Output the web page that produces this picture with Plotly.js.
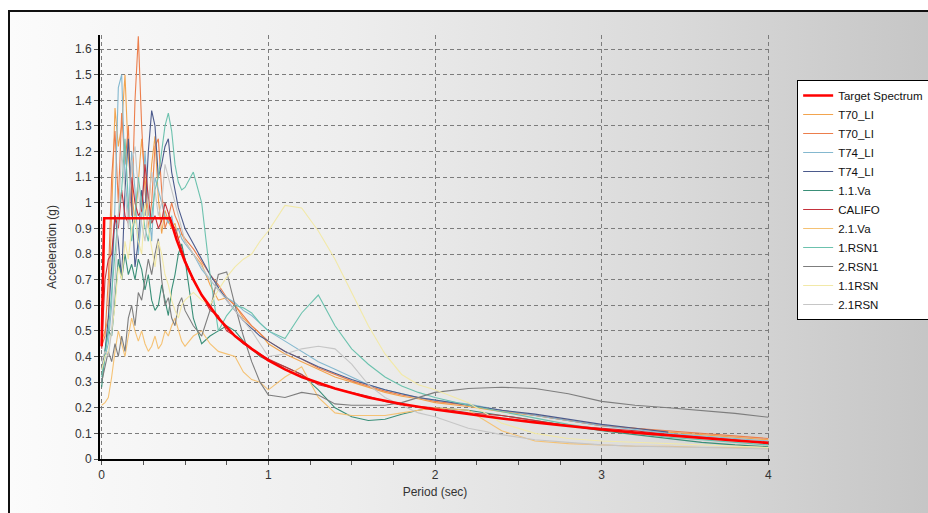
<!DOCTYPE html>
<html><head><meta charset="utf-8">
<script src="https://cdn.plot.ly/plotly-3.0.1.min.js"></script>
<style>
html,body{margin:0;padding:0;background:#fff;width:928px;height:513px;overflow:hidden;}
#frame{position:absolute;left:8px;top:10px;width:940px;height:520px;border-left:2px solid #111;border-top:2px solid #111;background:linear-gradient(to right,#fbfbfb 0%,#eeeeee 35%,#dadada 70%,#c4c4c4 100%);}
#chart{position:absolute;left:0;top:0;width:928px;height:513px;}
</style></head><body>
<div id="frame"></div>
<div id="chart"></div>
<script>
// ---- data ----
const periods = [0,0.02,0.04,0.06,0.08,0.10,0.12,0.14,0.16,0.18,
 0.20,0.22,0.24,0.26,0.28,0.30,0.32,0.34,0.36,0.38,
 0.40,0.42,0.44,0.46,0.48,0.50,0.55,0.60,0.65,0.70,
 0.75,0.80,0.85,0.90,0.95,1.0,1.1,1.2,1.3,1.4,
 1.5,1.6,1.7,1.8,1.9,2.0,2.2,2.4,2.6,2.8,
 3.0,3.2,3.4,3.6,3.8,4.0];

const targetPeriods = [0,0.015,0.41,0.45,0.5,0.55,0.6,0.7,0.8,0.9,1.0,1.1,1.2,1.4,1.6,1.8,2.0,2.2,2.4,2.6,2.8,3.0,3.2,3.4,3.6,3.8,4.0];
const targetSa = [0.44,0.94,0.94,0.855,0.77,0.70,0.64,0.55,0.48,0.43,0.385,0.35,0.32,0.275,0.24,0.215,0.193,0.175,0.158,0.143,0.128,0.115,0.103,0.092,0.082,0.072,0.063];

const t70a = [0.46,0.50,0.55,0.95,1.37,1.22,1.30,1.50,1.18,1.05,
 0.92,1.08,1.25,1.10,0.95,1.15,1.26,1.02,0.88,0.97,
 0.93,0.90,0.92,0.86,0.88,0.85,0.80,0.76,0.68,0.62,
 0.63,0.60,0.55,0.52,0.49,0.45,0.41,0.38,0.35,0.32,
 0.30,0.28,0.26,0.245,0.235,0.22,0.205,0.185,0.17,0.15,
 0.13,0.12,0.105,0.095,0.085,0.075];

const t70b = [0.44,0.48,0.70,1.10,1.28,1.00,1.35,1.15,1.30,0.95,
 1.40,1.65,1.30,1.05,0.90,1.00,1.22,1.25,1.05,0.90,
 0.94,1.00,0.95,0.92,0.88,0.86,0.82,0.77,0.72,0.68,
 0.63,0.60,0.56,0.52,0.49,0.46,0.42,0.39,0.355,0.33,
 0.305,0.285,0.265,0.25,0.24,0.225,0.21,0.19,0.17,0.15,
 0.13,0.12,0.11,0.10,0.09,0.08];

const t74a = [0.30,0.40,0.45,0.60,1.00,1.45,1.50,1.10,0.95,1.20,
 1.05,0.80,0.95,1.20,1.00,0.85,1.10,1.05,1.00,0.95,
 0.92,0.95,0.88,0.90,0.86,0.84,0.80,0.74,0.70,0.66,
 0.63,0.61,0.58,0.56,0.53,0.50,0.46,0.42,0.38,0.35,
 0.32,0.29,0.27,0.255,0.24,0.23,0.215,0.19,0.17,0.15,
 0.13,0.115,0.10,0.09,0.08,0.07];

const t74b = [0.35,0.42,0.55,0.75,0.95,0.85,0.70,1.05,1.25,1.00,
 0.75,0.85,1.05,0.95,1.20,1.36,1.30,1.10,1.15,1.22,
 1.25,1.12,1.05,0.98,0.94,0.90,0.84,0.78,0.72,0.67,
 0.62,0.58,0.54,0.51,0.48,0.46,0.42,0.39,0.36,0.335,
 0.31,0.29,0.27,0.255,0.24,0.23,0.21,0.19,0.175,0.155,
 0.135,0.12,0.105,null,null,null];

const va11 = [0.28,0.42,0.50,0.48,0.62,0.78,0.70,0.80,0.72,0.76,
 0.70,0.78,0.74,0.66,0.72,0.62,0.58,0.60,0.68,0.62,
 0.56,0.66,0.72,0.80,0.84,0.78,0.55,0.45,0.48,0.50,
 0.52,0.50,0.46,0.43,0.40,0.385,0.36,0.33,0.27,0.20,
 0.165,0.15,0.155,0.175,0.19,0.20,0.19,0.17,0.15,0.13,
 0.11,0.095,0.08,0.065,0.055,0.048];

const califo = [0.43,0.70,0.78,0.80,0.95,0.90,1.05,0.95,0.92,1.10,
 1.00,0.95,0.97,1.15,1.02,0.92,0.95,0.90,0.93,1.00,
 0.96,0.92,0.90,0.86,0.82,0.78,0.70,0.64,0.58,0.56,
 0.50,0.48,0.45,0.43,0.41,0.39,0.36,0.33,0.29,0.275,
 0.26,0.245,0.225,0.21,0.205,0.20,0.18,0.17,0.15,0.13,
 0.12,0.11,0.095,0.085,0.075,0.06];

const va21 = [0.21,0.22,0.24,0.32,0.42,0.50,0.45,0.40,0.48,0.55,
 0.50,0.46,0.50,0.45,0.42,0.44,0.48,0.43,0.45,0.50,
 0.48,0.52,0.55,0.50,0.46,0.44,0.48,0.50,0.45,0.42,
 0.41,0.40,0.34,0.31,0.30,0.27,0.32,0.36,0.24,0.18,
 0.17,0.17,0.17,0.18,0.19,0.20,0.19,0.11,0.07,0.06,
 0.055,0.05,0.05,0.045,0.045,0.04];

const rsn1a = [0.32,0.40,0.50,0.65,0.80,0.95,1.05,1.25,1.00,0.85,
 0.95,1.10,1.00,0.90,0.85,0.95,1.05,1.10,1.20,1.30,
 1.35,1.28,1.15,1.08,1.05,1.06,1.12,1.00,0.72,0.50,
 0.56,0.60,0.59,0.57,0.53,0.50,0.47,0.57,0.64,0.52,
 0.43,0.37,0.32,0.285,0.26,0.24,0.21,0.185,0.16,0.135,
 0.115,0.10,0.085,0.075,0.065,0.055];

const rsn1b = [0.30,0.36,0.42,0.38,0.45,0.40,0.48,0.42,0.55,0.60,
 0.52,0.65,0.62,0.70,0.78,0.72,0.80,0.86,0.70,0.60,
 0.63,0.55,0.52,0.60,0.63,0.58,0.52,0.48,0.58,0.72,
 0.73,0.60,0.48,0.38,0.30,0.25,0.24,0.26,0.25,0.215,
 0.21,0.21,0.21,0.22,0.24,0.26,0.275,0.28,0.275,0.255,
 0.225,0.21,0.20,0.19,0.178,0.163];

const rsn11 = [0.35,0.40,0.42,0.50,0.60,0.75,0.70,0.85,0.78,0.90,
 0.95,0.85,0.80,1.00,0.90,0.82,0.75,0.85,0.80,0.72,
 0.68,0.62,0.58,0.55,0.60,0.62,0.65,0.62,0.60,0.66,
 0.71,0.75,0.78,0.80,0.85,0.89,0.99,0.98,0.89,0.78,
 0.65,0.52,0.41,0.33,0.29,0.27,0.22,0.14,0.10,0.08,
 0.07,0.065,0.06,0.055,0.05,0.045];

const rsn21 = [0.38,0.42,0.40,0.50,0.70,0.95,1.20,1.05,0.90,1.15,
 1.22,1.05,0.92,0.85,1.00,1.12,1.05,0.95,1.00,1.15,
 1.10,1.05,1.00,0.95,0.90,0.85,0.80,0.75,0.70,0.66,
 0.62,0.58,0.54,0.50,0.45,0.40,0.41,0.43,0.44,0.43,
 0.37,0.29,0.24,0.21,0.18,0.165,0.12,0.095,0.075,0.065,
 0.055,0.05,0.048,0.045,0.043,0.04];

const recordNames = ['T70_LI','T70_LI','T74_LI','T74_LI','1.1.Va','CALIFO','2.1.Va','1.RSN1','2.RSN1','1.1RSN','2.1RSN'];
const recordValues = [t70a,t70b,t74a,t74b,va11,califo,va21,rsn1a,rsn1b,rsn11,rsn21];
const targetName = 'Target Spectrum';

const xTickVals = [0,1,2,3,4];
const xTickText = ['0','1','2','3','4'];
const yTickVals = [0,0.1,0.2,0.3,0.4,0.5,0.6,0.7,0.8,0.9,1,1.1,1.2,1.3,1.4,1.5,1.6];
const yTickText = ['0','0.1','0.2','0.3','0.4','0.5','0.6','0.7','0.8','0.9','1','1.1','1.2','1.3','1.4','1.5','1.6'];

// ---- styles ----
const recordColors = ['#f2a44e','#ec7e4c','#84b8cf','#4b5a8c','#3a8f78','#c4323c','#f5c274','#6cc2ae','#7d7d7d','#f2e9a8','#c6c6c6'];

const traces = recordValues.map((vals, i) => ({
  type: 'scatter', mode: 'lines', name: recordNames[i],
  x: periods, y: vals, connectgaps: false,
  line: {color: recordColors[i], width: 1.1},
  legendrank: 10 + i
}));
traces.push({
  type: 'scatter', mode: 'lines', name: targetName,
  x: targetPeriods, y: targetSa,
  line: {color: '#ff0000', width: 2.6},
  legendrank: 1
});

const gridStyle = {showgrid: true, gridcolor: '#7c7c7c', gridwidth: 1, griddash: '4px,3px'};

const layout = {
  width: 928, height: 513,
  paper_bgcolor: 'rgba(0,0,0,0)', plot_bgcolor: 'rgba(0,0,0,0)',
  margin: {l: 100, r: 158, t: 35, b: 54, pad: 0, autoexpand: false},
  font: {family: 'Arial, "Liberation Sans", sans-serif', size: 12, color: '#333'},
  showlegend: true,
  legend: {xref: 'container', yref: 'container', x: 0.859, y: 0.844, xanchor: 'left', yanchor: 'top',
           bgcolor: '#ffffff', bordercolor: '#000', borderwidth: 1, font: {size: 11.5, color: '#111'}},
  xaxis: Object.assign({
    range: [-0.01, 4.01], tickmode: 'array', tickvals: xTickVals, ticktext: xTickText,
    showline: true, linecolor: '#000', linewidth: 2, zeroline: false,
    ticks: 'outside', ticklen: 4, tickcolor: '#555',
    minor: {tickmode: 'linear', tick0: 0, dtick: 0.25, ticks: 'outside', ticklen: 4, tickcolor: '#555', showgrid: false},
    title: {text: 'Period (sec)', font: {size: 12, color: '#333'}, standoff: 6}
  }, gridStyle),
  yaxis: Object.assign({
    range: [0, 1.655], tickmode: 'array', tickvals: yTickVals, ticktext: yTickText,
    showline: true, linecolor: '#000', linewidth: 2, zeroline: false,
    ticks: 'outside', ticklen: 4, tickcolor: '#555',
    title: {text: 'Acceleration (g)', font: {size: 12, color: '#333'}, standoff: 16}
  }, gridStyle)
};

Plotly.newPlot('chart', traces, layout, {staticPlot: true, displayModeBar: false});
</script></body></html>
